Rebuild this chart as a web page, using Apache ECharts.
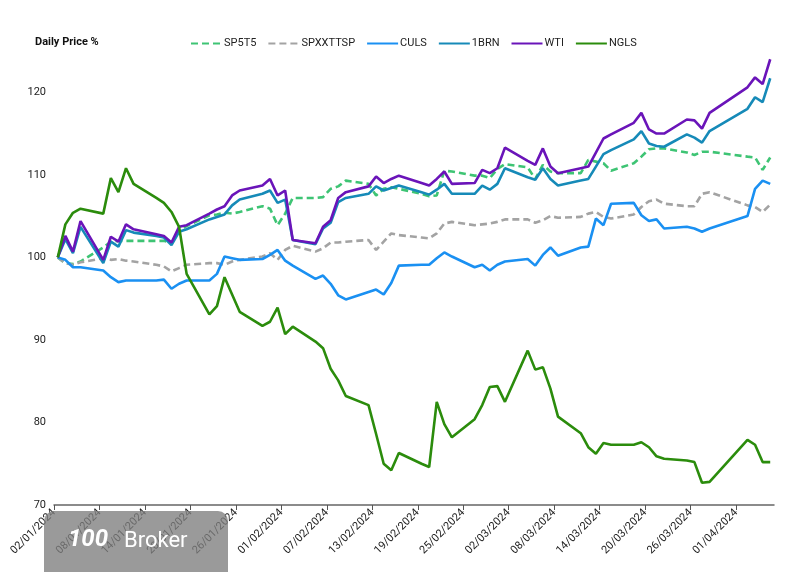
<!DOCTYPE html>
<html>
<head>
<meta charset="utf-8">
<script src="https://cdn.jsdelivr.net/npm/echarts@6/dist/echarts.min.js"></script>
<style>html,body{margin:0;padding:0;background:#fff}#c{width:800px;height:572px}</style>
</head>
<body>
<div id="c"></div>
<script>
// Trading days (dd/mm/yyyy)
const dates = ["02/01/2024","03/01/2024","04/01/2024","05/01/2024","08/01/2024","09/01/2024","10/01/2024","11/01/2024","12/01/2024",
"15/01/2024","16/01/2024","17/01/2024","18/01/2024","19/01/2024","22/01/2024","23/01/2024","24/01/2024","25/01/2024","26/01/2024",
"29/01/2024","30/01/2024","31/01/2024","01/02/2024","02/02/2024","05/02/2024","06/02/2024","07/02/2024","08/02/2024","09/02/2024",
"12/02/2024","13/02/2024","14/02/2024","15/02/2024","16/02/2024","19/02/2024","20/02/2024","21/02/2024","22/02/2024","23/02/2024",
"26/02/2024","27/02/2024","28/02/2024","29/02/2024","01/03/2024","04/03/2024","05/03/2024","06/03/2024","07/03/2024","08/03/2024",
"11/03/2024","12/03/2024","13/03/2024","14/03/2024","15/03/2024","18/03/2024","19/03/2024","20/03/2024","21/03/2024","22/03/2024",
"25/03/2024","26/03/2024","27/03/2024","28/03/2024","02/04/2024","03/04/2024","04/04/2024","05/04/2024"];

const SP5T5 = [100,99.3,99.2,99.5,101.2,101.9,102.0,102.0,102.0,
102.0,102.0,101.7,103.3,103.8,105.1,105.2,105.4,105.3,105.5,
106.2,105.9,103.9,105.3,107.2,107.2,107.3,108.3,108.6,109.3,
108.9,107.5,108.3,108.5,108.3,107.7,107.4,107.5,110.5,110.4,
109.9,109.9,109.6,110.7,111.3,110.9,109.5,111.2,110.4,110.2,
110.2,111.8,111.6,111.4,110.5,111.4,112.2,113.1,113.2,113.2,
112.7,112.4,112.8,112.8,112.2,112.1,110.6,112.1];

const SPXXTTSP = [100,99.3,99.1,99.4,99.9,99.7,99.8,99.6,99.5,
99.1,98.9,98.3,98.7,99.1,99.3,99.3,99.1,99.5,99.7,
100.1,100.5,99.7,100.9,101.4,100.7,101.1,101.8,101.8,101.9,
102.1,100.9,101.9,102.9,102.7,102.4,102.3,102.9,104.1,104.3,
103.9,104.0,104.1,104.3,104.6,104.6,104.2,104.5,105.0,104.8,
104.9,105.3,105.5,104.9,104.7,105.2,106.1,106.8,107.0,106.5,
106.2,106.2,107.7,107.9,106.3,106.1,105.5,106.4];

const CULS = [100,99.7,98.8,98.8,98.4,97.6,97.0,97.2,97.2,
97.2,97.3,96.2,96.8,97.2,97.2,98.0,100.1,99.9,99.7,
99.8,100.3,100.9,99.6,99.0,97.4,97.8,96.8,95.4,94.9,
95.8,96.1,95.5,96.9,99.0,99.1,99.1,99.9,100.6,100.1,
98.8,99.1,98.4,99.1,99.5,99.8,99.0,100.3,101.2,100.2,
101.2,101.3,104.7,103.9,106.5,106.6,105.1,104.4,104.6,103.5,
103.7,103.5,103.1,103.5,105.0,108.3,109.3,108.9];

const BRN1 = [100,102.2,100.5,103.7,99.3,101.9,101.3,103.3,103.0,
102.6,102.4,101.5,103.1,103.4,104.6,104.9,105.2,106.3,107.0,
107.7,108.1,106.6,107.0,102.1,101.6,103.5,104.2,106.7,107.2,
107.7,108.6,108.1,108.4,108.7,107.9,107.6,108.2,108.9,107.7,
107.7,108.7,108.2,108.9,110.8,109.7,109.4,110.8,109.5,108.7,
109.3,109.5,111.0,112.5,113.0,114.3,115.3,113.8,113.5,113.4,
114.9,114.5,113.9,115.3,118.0,119.4,118.8,121.7];

const WTI = [100,102.6,100.7,104.4,99.7,102.5,101.9,104.0,103.4,
102.8,102.6,101.8,103.7,103.9,105.3,105.8,106.2,107.5,108.1,
108.7,109.5,107.5,108.1,102.1,101.7,103.7,104.5,107.2,107.9,
108.6,109.8,109.0,109.5,109.9,109.0,108.7,109.5,110.4,108.9,
109.0,110.6,110.2,110.8,113.3,111.7,111.2,113.2,111.0,110.2,
110.8,111.0,112.7,114.4,114.9,116.3,117.5,115.5,115.0,115.0,
116.7,116.6,115.6,117.5,120.6,121.8,121.0,124.0];

const NGLS = [100,104.0,105.4,105.9,105.3,109.6,107.9,110.8,108.9,
107.2,106.6,105.5,103.7,98.0,93.1,94.1,97.6,95.5,93.4,
91.7,92.2,93.9,90.7,91.6,89.8,89.0,86.5,85.1,83.2,
82.1,78.6,75.0,74.2,76.3,75.0,74.6,82.5,79.8,78.2,
80.4,82.1,84.3,84.4,82.5,88.7,86.4,86.7,84.1,80.7,
78.7,77.0,76.2,77.5,77.3,77.3,77.6,77.0,75.9,75.6,
75.4,75.2,72.7,72.8,77.9,77.3,75.2,75.2];

const xTickDays = [0,6,12,18,24,30,36,42,48,54,60,66,72,78,84,90];
const yTicks = [70,80,90,100,110,120];

const START = Date.UTC(2024,0,2);
const DAY = 86400000;
const CLOSE_HOUR = 12;
function toDay(s){ const p=s.split('/'); return (Date.UTC(+p[2],+p[1]-1,+p[0])-START)/DAY + CLOSE_HOUR/24; }
function fmt(v){ const d=new Date(START+v*DAY); const dd=String(d.getUTCDate()).padStart(2,'0'); const mm=String(d.getUTCMonth()+1).padStart(2,'0'); return dd+'/'+mm+'/'+d.getUTCFullYear(); }
const xs = dates.map(toDay);
const pair = arr => arr.map((v,i)=>[xs[i],v]);

const defs = [
  {name:'SP5T5', data:SP5T5, color:'#3ec474', dash:[7,4]},
  {name:'SPXXTTSP', data:SPXXTTSP, color:'#a3a3a3', dash:[7,4]},
  {name:'CULS', data:CULS, color:'#1a90f2', dash:'solid'},
  {name:'1BRN', data:BRN1, color:'#168ab8', dash:'solid'},
  {name:'WTI', data:WTI, color:'#6a14b9', dash:'solid'},
  {name:'NGLS', data:NGLS, color:'#2b8c0c', dash:'solid'}
];

const chart = echarts.init(document.getElementById('c'));
chart.setOption({
  animation:false,
  backgroundColor:'#fff',
  title:{text:'Daily Price %', left:30, top:32, textStyle:{fontFamily:'Roboto', fontSize:11, fontWeight:'bold', color:'#111'}},
  legend:{top:33, left:185, itemWidth:31, itemHeight:10, itemGap:11,
    itemStyle:{opacity:0},
    textStyle:{fontFamily:'Roboto', fontSize:11, color:'#222', padding:[0,0,0,-3]},
    data:defs.map(d=>d.name)},
  grid:{left:54, right:26, top:51, bottom:67},
  xAxis:{type:'value', min:0, max:95, interval:6,
    splitLine:{show:false},
    axisLine:{show:true, lineStyle:{color:'#666', width:1.5}},
    axisTick:{show:true, length:5, lineStyle:{color:'#555'}, customValues:xTickDays},
    axisLabel:{rotate:45, fontFamily:'Roboto', fontSize:11, color:'#222', margin:6, customValues:xTickDays, formatter:fmt}},
  yAxis:{type:'value', min:70, max:125, interval:10,
    splitLine:{show:false}, axisLine:{show:false}, axisTick:{show:false},
    axisLabel:{fontFamily:'Roboto', fontSize:11, color:'#222', margin:8, customValues:yTicks}},
  series:defs.map(d=>({name:d.name, type:'line', data:pair(d.data), symbol:'none', showSymbol:false,
    color:d.color, lineStyle:{color:d.color, width:2.6, type:d.dash}})),
  graphic:[
    {type:'rect', z:100, shape:{x:44, y:511, width:184, height:80, r:10}, style:{fill:'rgba(125,125,125,0.78)'}},
    {type:'text', z:101, style:{x:68, y:528, text:'100', fill:'#fff', font:'italic bold 24px Roboto'}},
    {type:'text', z:101, style:{x:124, y:530, text:'Broker', fill:'#fff', font:'22px Roboto'}}
  ]
});
</script>
</body>
</html>
